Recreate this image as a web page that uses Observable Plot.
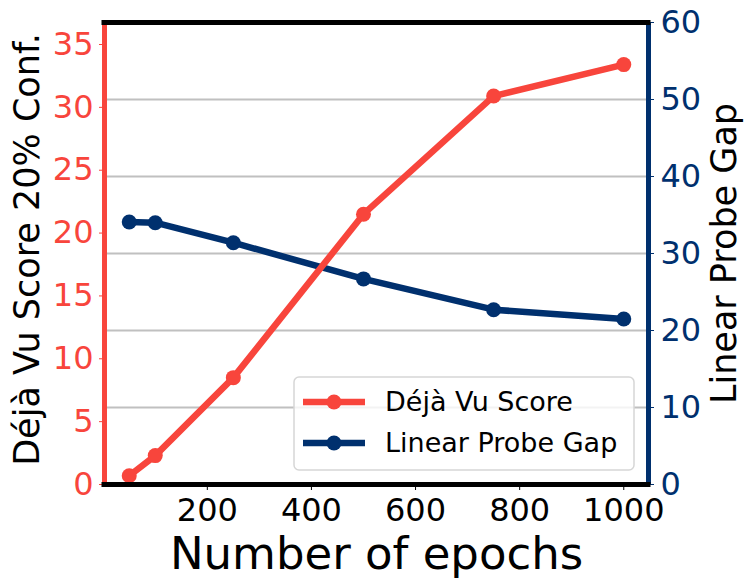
<!DOCTYPE html>
<html>
<head>
<meta charset="utf-8">
<script src="https://cdn.jsdelivr.net/npm/d3@7"></script>
<script src="https://cdn.jsdelivr.net/npm/@observablehq/plot@0.6"></script>
<style>
  html, body { margin: 0; padding: 0; background: #fff; }
  #chart { width: 751px; height: 586px; position: relative; }
  svg { font-family: "DejaVu Sans", sans-serif; }
</style>
</head>
<body>
<div id="chart"></div>
<script>
// ---- data ----
const epochs = [50, 100, 250, 500, 750, 1000];
const dejaVuScore = [0.7, 2.3, 8.5, 21.5, 30.9, 33.4];
const linearProbeGap = [34.1, 34.0, 31.4, 26.7, 22.7, 21.5];
const xTicks = [200, 400, 600, 800, 1000];
const leftTicks = [0, 5, 10, 15, 20, 25, 30, 35];
const rightTicks = [0, 10, 20, 30, 40, 50, 60];
const seriesNames = ["Déjà Vu Score", "Linear Probe Gap"];

const RED = "#f8453c";
const NAVY = "#00306e";
const xDomain = [2.5, 1047.5];
const leftMax = 36.75;
const rightMax = 60;
const k = leftMax / rightMax; // map right-axis values onto left scale

const redData = epochs.map((e, i) => ({x: e, y: dejaVuScore[i]}));
const blueData = epochs.map((e, i) => ({x: e, y: linearProbeGap[i] * k}));

const plot = Plot.plot({
  width: 751,
  height: 586,
  marginLeft: 104,
  marginRight: 103,
  marginTop: 22,
  marginBottom: 102,
  style: {fontFamily: "DejaVu Sans, sans-serif", background: "#fff"},
  x: {domain: xDomain},
  y: {domain: [0, leftMax]},
  marks: [
    Plot.gridY(rightTicks.filter(t => t > 0 && t < rightMax).map(t => t * k),
      {stroke: "#c0c0c0", strokeOpacity: 1, strokeWidth: 2}),
    // axes
    Plot.axisX(xTicks, {anchor: "bottom", tickSize: 6, tickPadding: 8, fontSize: 32,
      stroke: "black", fill: "black", label: null, tickFormat: d => String(d)}),
    Plot.axisY(leftTicks, {anchor: "left", tickSize: 5, tickPadding: 6, fontSize: 32,
      stroke: RED, fill: RED, label: null}),
    Plot.axisY(rightTicks.map(t => t * k), {anchor: "right", tickSize: 5, tickPadding: 7, fontSize: 32,
      stroke: NAVY, fill: NAVY, label: null, tickFormat: d => String(Math.round(d / k))}),
    // series
    Plot.line(blueData, {x: "x", y: "y", stroke: NAVY, strokeWidth: 6.5}),
    Plot.dot(blueData, {x: "x", y: "y", r: 7.5, fill: NAVY}),
    Plot.line(redData, {x: "x", y: "y", stroke: RED, strokeWidth: 6.5}),
    Plot.dot(redData, {x: "x", y: "y", r: 7.5, fill: RED}),
    // spines
    Plot.ruleX([xDomain[0]], {stroke: RED, strokeWidth: 5}),
    Plot.ruleX([xDomain[1]], {stroke: NAVY, strokeWidth: 5}),
    Plot.ruleY([0, leftMax], {x1: xDomain[0], x2: xDomain[1], stroke: "black", strokeWidth: 5, insetLeft: -2.5, insetRight: -2.5}),
    // titles
    Plot.text(["Number of epochs"], {frameAnchor: "bottom", dy: 70, fontSize: 45, fill: "black", lineAnchor: "middle", textAnchor: "middle"}),
    Plot.text(["Déjà Vu Score 20% Conf."], {frameAnchor: "left", dx: -77, dy: -4, rotate: -90, fontSize: 35, fill: "black", lineAnchor: "middle", textAnchor: "middle"}),
    Plot.text(["Linear Probe Gap"], {frameAnchor: "right", dx: 76, rotate: -90, fontSize: 35, fill: "black", lineAnchor: "middle", textAnchor: "middle"})
  ]
});

document.getElementById("chart").appendChild(plot);

// ---- legend overlay ----
const svg = d3.select(plot);
const lg = svg.append("g").attr("class", "legend").attr("text-anchor", "start");
lg.append("rect").attr("x", 294).attr("y", 377).attr("width", 340).attr("height", 93)
  .attr("rx", 5).attr("fill", "white").attr("fill-opacity", 0.8)
  .attr("stroke", "#d6d6d6").attr("stroke-width", 1.5);
const entries = [{name: seriesNames[0], color: RED, y: 402}, {name: seriesNames[1], color: NAVY, y: 443}];
entries.forEach(e => {
  lg.append("line").attr("x1", 303).attr("x2", 365).attr("y1", e.y).attr("y2", e.y)
    .attr("stroke", e.color).attr("stroke-width", 6.5);
  lg.append("circle").attr("cx", 334).attr("cy", e.y).attr("r", 7.5).attr("fill", e.color);
  lg.append("text").attr("x", 385).attr("y", e.y).attr("dy", "0.35em")
    .attr("text-anchor", "start")
    .attr("font-size", 27).attr("fill", "black").text(e.name);
});
</script>
</body>
</html>
